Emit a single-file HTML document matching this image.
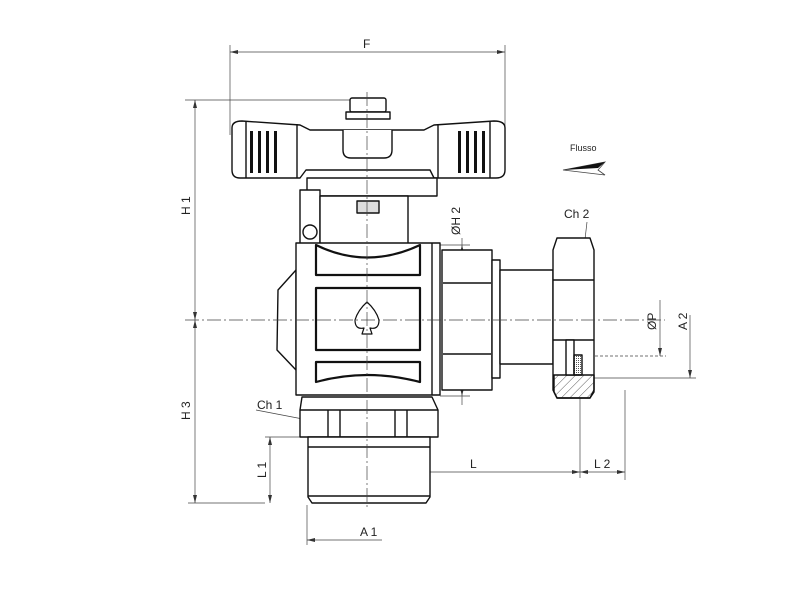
<!DOCTYPE html>
<html><head><style>
html,body{margin:0;padding:0;background:#fff;width:800px;height:600px;overflow:hidden}
svg text{font-family:"Liberation Sans",sans-serif;fill:#222}
</style></head><body>
<svg width="800" height="600" viewBox="0 0 800 600" xmlns="http://www.w3.org/2000/svg">
<defs>
<pattern id="h" width="6" height="6" patternUnits="userSpaceOnUse" patternTransform="rotate(45)"><line x1="0" y1="0" x2="0" y2="6" stroke="#333" stroke-width="0.8"/></pattern>
<pattern id="x" width="2" height="2" patternUnits="userSpaceOnUse"><rect width="1" height="1" fill="#555"/></pattern>
</defs>
<g fill="none" stroke="#444" stroke-width="0.7">
<line x1="230" y1="45" x2="230" y2="135"/><line x1="505" y1="45" x2="505" y2="135"/>
<line x1="230" y1="52" x2="505" y2="52"/>
<line x1="185" y1="100" x2="355" y2="100"/>
<line x1="195" y1="100" x2="195" y2="503"/>
<line x1="188" y1="503" x2="265" y2="503"/>
<line x1="265" y1="437" x2="305" y2="437"/>
<line x1="270" y1="437" x2="270" y2="503"/>
<line x1="307" y1="505" x2="307" y2="545"/>
<line x1="307" y1="540" x2="382" y2="540"/>
<line x1="367" y1="472" x2="625" y2="472"/>
<line x1="580" y1="380" x2="580" y2="478"/>
<line x1="625" y1="390" x2="625" y2="480"/>
<line x1="440" y1="245" x2="470" y2="245"/><line x1="440" y1="396" x2="470" y2="396"/>
<line x1="462" y1="238" x2="462" y2="405"/>
<line x1="660" y1="300" x2="660" y2="356"/>
<line x1="590" y1="378" x2="696" y2="378"/>
<line x1="690" y1="315" x2="690" y2="378"/>
<line x1="530" y1="356" x2="666" y2="356" stroke-dasharray="3,2"/>
<line x1="256" y1="410" x2="308" y2="420"/>
<line x1="587" y1="222" x2="584" y2="248"/>
</g>
<g fill="#333">
<polygon points="230,52 238,50 238,54"/><polygon points="505,52 497,50 497,54"/>
<polygon points="195,100 193,108 197,108"/><polygon points="195,503 193,495 197,495"/>
<polygon points="195,320 193,312 197,312"/><polygon points="195,320 193,328 197,328"/>
<polygon points="270,437 268,445 272,445"/><polygon points="270,503 268,495 272,495"/>
<polygon points="307,540 315,538 315,542"/>
<polygon points="367,472 375,470 375,474"/><polygon points="580,472 572,470 572,474"/><polygon points="580,472 588,470 588,474"/><polygon points="625,472 617,470 617,474"/>
<polygon points="462,245 460,253 464,253"/><polygon points="462,396 460,388 464,388"/>
<polygon points="660,356 658,348 662,348"/><polygon points="690,378 688,370 692,370"/>
</g>
<g font-size="12">
<text x="363" y="48">F</text>
<text transform="translate(190,215) rotate(-90)">H 1</text>
<text transform="translate(190,420) rotate(-90)">H 3</text>
<text transform="translate(266,478) rotate(-90)">L 1</text>
<text x="470" y="468">L</text>
<text x="594" y="468">L 2</text>
<text x="360" y="536">A 1</text>
<text x="257" y="409">Ch 1</text>
<text x="564" y="218">Ch 2</text>
<text transform="translate(460,235) rotate(-90)">ØH 2</text>
<text transform="translate(656,330) rotate(-90)">ØP</text>
<text transform="translate(687,330) rotate(-90)">A 2</text>
<text x="570" y="151" font-size="9">Flusso</text>
</g>
<polygon points="563,170 605,162 598,170 605,175" fill="none" stroke="#444" stroke-width="0.8"/>
<polygon points="563,170 605,162 598,168" fill="#111"/>
<g fill="#fff" stroke="#111" stroke-width="1.4" stroke-linejoin="round">
<rect x="350" y="98" width="36" height="14" rx="2"/>
<rect x="346" y="112" width="44" height="7"/>
<path d="M232,128 Q232,121 242,121 L300,125 L310,130 L424,130 L434,125 L494,121 Q505,121 505,128 L505,170 Q505,178 496,178 L434,178 L430,170 L306,170 L300,178 L240,178 Q232,178 232,170 Z"/>
<line x1="246" y1="122" x2="246" y2="178"/><line x1="297" y1="124" x2="297" y2="178"/>
<line x1="438" y1="124" x2="438" y2="178"/><line x1="490" y1="122" x2="490" y2="178"/>
<path d="M343,130 L343,150 Q343,158 351,158 L384,158 Q392,158 392,150 L392,130"/>
<rect x="307" y="178" width="130" height="18"/>
<rect x="300" y="190" width="20" height="55"/>
<rect x="320" y="196" width="88" height="50"/>
<rect x="357" y="201" width="22" height="12" fill="#ddd"/>
<circle cx="310" cy="232" r="7"/>
<path d="M296,270 L278,290 L277,350 L296,370 Z"/>
<rect x="296" y="243" width="144" height="152"/>
<path d="M316,245 Q367,270 420,245 L420,275 L316,275 Z" stroke-width="2.2"/>
<rect x="316" y="288" width="104" height="62" stroke-width="2.2"/>
<path d="M316,362 L420,362 L420,382 Q367,368 316,382 Z" stroke-width="2.2"/>
<line x1="432" y1="243" x2="432" y2="395"/>
<path d="M367,302 Q358,310 355,320 Q355,330 364,328 L362,334 L372,334 L370,328 Q379,330 379,320 Q376,310 367,302 Z" stroke-width="1.2"/>
<rect x="442" y="250" width="50" height="140"/>
<line x1="443" y1="283" x2="491" y2="283"/><line x1="443" y1="354" x2="491" y2="354"/>
<rect x="492" y="260" width="8" height="118"/>
<rect x="500" y="270" width="53" height="94"/>
<path d="M557,238 L590,238 L594,250 L594,390 L590,398 L557,398 L553,390 L553,250 Z"/>
<line x1="553" y1="280" x2="594" y2="280"/><line x1="553" y1="340" x2="594" y2="340"/>
<path d="M554,375 L594,375 L594,392 L590,398 L557,398 L554,392 Z" fill="url(#h)"/>
<rect x="566" y="340" width="8" height="35"/>
<rect x="574" y="355" width="8" height="20" fill="url(#x)"/>
<path d="M302,397 L432,397 L438,410 L438,437 L300,437 L300,410 Z"/>
<line x1="300" y1="410" x2="438" y2="410"/>
<line x1="328" y1="410" x2="328" y2="437"/><line x1="340" y1="410" x2="340" y2="437"/>
<line x1="395" y1="410" x2="395" y2="437"/><line x1="407" y1="410" x2="407" y2="437"/>
<path d="M308,437 L430,437 L430,497 L426,503 L312,503 L308,497 Z"/>
<line x1="308" y1="447" x2="430" y2="447"/><line x1="308" y1="496" x2="430" y2="496"/>
</g>
<g fill="#111">
<rect x="250" y="131" width="3" height="42"/><rect x="258" y="131" width="3" height="42"/><rect x="266" y="131" width="3" height="42"/><rect x="274" y="131" width="3" height="42"/>
<rect x="458" y="131" width="3" height="42"/><rect x="466" y="131" width="3" height="42"/><rect x="474" y="131" width="3" height="42"/><rect x="482" y="131" width="3" height="42"/>
</g>
<g fill="none" stroke="#444" stroke-width="0.7">
<line x1="367" y1="92" x2="367" y2="510" stroke-dasharray="14,3,2,3"/>
<line x1="185" y1="320" x2="665" y2="320" stroke-dasharray="14,3,2,3"/>
</g>
</svg>
</body></html>
